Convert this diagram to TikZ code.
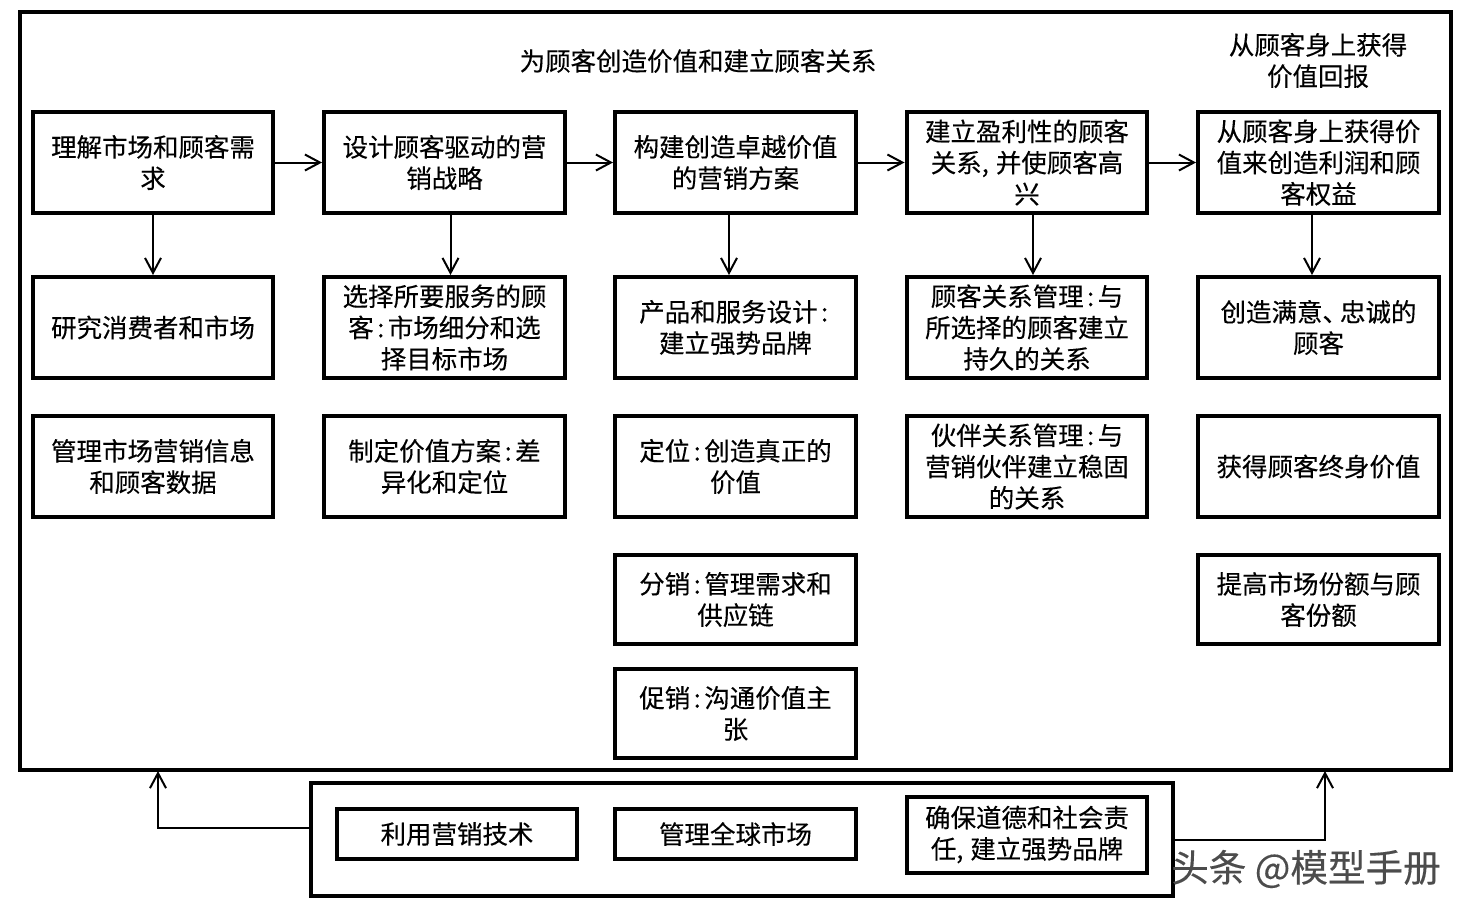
\documentclass[tikz,border=0pt]{standalone}
\usepackage{fontspec}
\setmainfont{Noto Sans CJK SC}[FakeBold=0.25]
\usetikzlibrary{arrows.meta}
\newcommand{\colonmark}{\kern2pt:\kern2pt}
\newcommand{\commamark}{,\kern4pt}

\begin{document}
\begin{tikzpicture}[x=0.02cm,y=-0.02cm,
    stage/.style={draw,line width=0.08cm,minimum width=4.82cm,minimum height=2.02cm,inner sep=0pt,
      align=center,font=\fontsize{14.5}{17.8}\selectfont},
    low/.style={stage,minimum height=1.78cm},
    tool/.style={stage,minimum height=1cm},
    frame/.style={draw,line width=0.08cm,inner sep=0pt},
    caption/.style={align=center,font=\fontsize{14.5}{17.8}\selectfont},
    link/.style={line width=0.04cm,-{Straight Barb[length=0.3cm,width=0.32cm]}}]
  \useasboundingbox (0,0) rectangle (1466,914);

  \node[frame,minimum width=28.62cm,minimum height=15.16cm] (main) at (735.5,391) {};
  \node[frame,minimum width=17.24cm,minimum height=2.26cm] (base) at (742,839.5) {};

  \node[caption] (title) at (698,61) {为顾客创造价值和建立顾客关系};
  \node[caption] (titleB) at (1318,60.5) {从顾客身上获得\\价值回报};

  % first column
  \node[stage] (a1) at (153,162.5) {理解市场和顾客需\\求};
  \node[stage] (a2) at (153,327.5) {研究消费者和市场};
  \node[stage] (a3) at (153,466.5) {管理市场营销信息\\和顾客数据};

  % second column
  \node[stage] (b1) at (444.5,162.5) {设计顾客驱动的营\\销战略};
  \node[stage] (b2) at (444.5,327.5) {选择所要服务的顾\\客\colonmark 市场细分和选\\择目标市场};
  \node[stage] (b3) at (444.5,466.5) {制定价值方案\colonmark 差\\异化和定位};

  % third column
  \node[stage] (c1) at (735.5,162.5) {构建创造卓越价值\\的营销方案};
  \node[stage] (c2) at (735.5,327.5) {产品和服务设计\colonmark\\建立强势品牌};
  \node[stage] (c3) at (735.5,466.5) {定位\colonmark 创造真正的\\价值};
  \node[low] (c4) at (735.5,599.5) {分销\colonmark 管理需求和\\供应链};
  \node[low] (c5) at (735.5,713.5) {促销\colonmark 沟通价值主\\张};

  % fourth column
  \node[stage] (d1) at (1027,162.5) {建立盈利性的顾客\\关系\commamark 并使顾客高\\兴};
  \node[stage] (d2) at (1027,327.5) {顾客关系管理\colonmark 与\\所选择的顾客建立\\持久的关系};
  \node[stage] (d3) at (1027,466.5) {伙伴关系管理\colonmark 与\\营销伙伴建立稳固\\的关系};

  % fifth column
  \node[stage] (e1) at (1318.5,162.5) {从顾客身上获得价\\值来创造利润和顾\\客权益};
  \node[stage] (e2) at (1318.5,327.5) {创造满意、\kern-4.5pt 忠诚的\\顾客};
  \node[stage] (e3) at (1318.5,466.5) {获得顾客终身价值};
  \node[low] (e4) at (1318.5,599.5) {提高市场份额与顾\\客份额};

  % bottom row
  \node[tool] (f1) at (457,834) {利用营销技术};
  \node[tool] (f2) at (735.5,834) {管理全球市场};
  \node[stage,minimum height=1.52cm] (f3) at (1027,834.5) {确保道德和社会责\\任\commamark 建立强势品牌};

  \draw[link] (a1) -- (b1);
  \draw[link] (b1) -- (c1);
  \draw[link] (c1) -- (d1);
  \draw[link] (d1) -- (e1);

  \draw[link] (a1.south) -- (a2.north);
  \draw[link] ([xshift=0.12cm]b1.south) -- ([xshift=0.12cm]b2.north);
  \draw[link] ([xshift=-0.13cm]c1.south) -- ([xshift=-0.13cm]c2.north);
  \draw[link] ([xshift=0.12cm]d1.south) -- ([xshift=0.12cm]d2.north);
  \draw[link] ([xshift=-0.13cm]e1.south) -- ([xshift=-0.13cm]e2.north);

  \coordinate (backL) at (158,771);
  \coordinate (backR) at (1325,771);
  \draw[link] ([yshift=0.23cm]base.west) -| (backL);
  \draw[link] (base.east) -| (backR);

  \node[text=black!70,font=\fontsize{21.4}{24}\selectfont] (mark) at (1306,869) {头条 @模型手册};
\end{tikzpicture}
\end{document}
